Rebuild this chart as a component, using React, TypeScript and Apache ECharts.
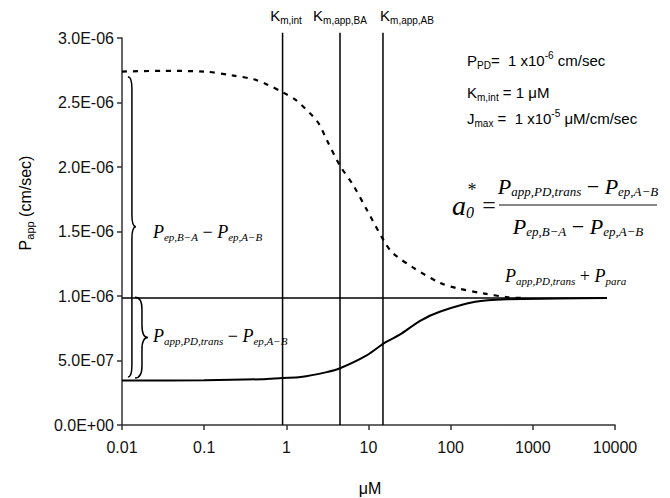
import React, { useEffect, useRef } from 'react';
import * as echarts from 'echarts';

const xTickLabels = ['0.01', '0.1', '1', '10', '100', '1000', '10000'];
const yTickLabels = ['0.0E+00', '5.0E-07', '1.0E-06', '1.5E-06', '2.0E-06', '2.5E-06', '3.0E-06'];

// P_ep,B-A (dotted)
const epX = [0.01, 0.03, 0.1, 0.22, 0.4, 0.58, 0.9, 1.3, 2.4, 3.1, 4.5, 6.5, 9.5, 16, 20, 35, 75, 120, 250, 500, 800];
const epY = [2.74e-6, 2.745e-6, 2.74e-6, 2.71e-6, 2.68e-6, 2.64e-6, 2.58e-6, 2.52e-6, 2.35e-6, 2.21e-6, 2.01e-6, 1.86e-6, 1.67e-6, 1.41e-6, 1.33e-6, 1.22e-6, 1.10e-6, 1.06e-6, 1.02e-6, 0.99e-6, 0.985e-6];

// P_app,PD,trans (solid)
const pdX = [0.01, 0.1, 0.5, 0.9, 1.5, 3.1, 4.5, 9.5, 16, 24, 43, 75, 200, 500, 2000, 8000];
const pdY = [0.345e-6, 0.347e-6, 0.355e-6, 0.365e-6, 0.372e-6, 0.41e-6, 0.44e-6, 0.54e-6, 0.64e-6, 0.70e-6, 0.81e-6, 0.88e-6, 0.955e-6, 0.975e-6, 0.98e-6, 0.985e-6];

// P_app,PD,trans + P_para (horizontal)
const paraX = [0.01, 8000];
const paraY = [0.985e-6, 0.985e-6];

// Km markers
const kmNames = ['m,int', 'm,app,BA', 'm,app,AB'];
const kmValues = [0.9, 4.5, 15];
const kmTop = 3.04e-6;

// braces
const braceX = [0.0132, 0.0175];
const braceTop = [2.7e-6, 0.99e-6];
const braceBottom = [0.372e-6, 0.365e-6];

const SANS = 'Liberation Sans, Arial, sans-serif';
const SERIF = 'Liberation Serif, Times New Roman, serif';

const braceEnd = [4, 7];
const braceTip = [4, 6];

export default function App() {
  const ref = useRef<HTMLDivElement>(null);
  useEffect(() => {
    if (!ref.current) return;
    const chart = echarts.init(ref.current, undefined, { renderer: 'svg' });

    const mk = (big: number, small: number, lh: number) => ({
      P: { fontFamily: SERIF, fontStyle: 'italic', fontWeight: 'normal', fontSize: big, lineHeight: lh, verticalAlign: 'middle', color: '#111' },
      s: { fontFamily: SERIF, fontStyle: 'italic', fontWeight: 'normal', fontSize: small, lineHeight: lh, verticalAlign: 'bottom', color: '#111', padding: [0, 0, 2, 0] },
      m: { fontFamily: SERIF, fontWeight: 'normal', fontSize: big, lineHeight: lh, verticalAlign: 'middle', color: '#111' },
    });
    const serifRich = mk(18, 11, 24);
    const bigRich = mk(22, 13, 28);
    const aRich = mk(28, 16, 34);
    const sansRich = {
      n: { fontFamily: SANS, fontSize: 15, lineHeight: 20, verticalAlign: 'middle', color: '#000' },
      s: { fontFamily: SANS, fontSize: 10, lineHeight: 20, verticalAlign: 'bottom', color: '#000' },
      u: { fontFamily: SANS, fontSize: 10, lineHeight: 20, verticalAlign: 'top', color: '#000' },
    };

    const kmLabelX = [286, 340, 407];

    const graphic: any[] = [
      ...kmNames.map((n, i) => ({
        type: 'text', x: kmLabelX[i], y: 15,
        style: { text: `{n|K}{s|${n}}`, rich: sansRich, align: 'center', verticalAlign: 'middle' },
      })),
      { type: 'text', x: 467, y: 60, style: { text: '{n|P}{s|PD}{n|=  1 x10}{u|-6}{n| cm/sec}', rich: sansRich, align: 'left', verticalAlign: 'middle' } },
      { type: 'text', x: 467, y: 92, style: { text: '{n|K}{s|m,int}{n| = 1 μM}', rich: sansRich, align: 'left', verticalAlign: 'middle' } },
      { type: 'text', x: 467, y: 118, style: { text: '{n|J}{s|max}{n| =  1 x10}{u|-5}{n| μM/cm/sec}', rich: sansRich, align: 'left', verticalAlign: 'middle' } },
      // y axis name
      { type: 'text', x: 25, y: 203, rotation: Math.PI / 2, style: { text: '{n|P}{s|app}{n| (cm/sec)}', rich: { ...sansRich, n: { ...sansRich.n, fontSize: 16 }, s: { ...sansRich.s, fontSize: 11 } }, align: 'center', verticalAlign: 'middle' } },
      { type: 'text', x: 370, y: 488, style: { text: 'μM', font: `16px ${SANS}`, fill: '#000', align: 'center', verticalAlign: 'middle' } },
      // brace labels
      { type: 'text', x: 153, y: 232, style: { text: '{P|P}{s|ep,B−A}{m| − }{P|P}{s|ep,A−B}', rich: serifRich, align: 'left', verticalAlign: 'middle' } },
      { type: 'text', x: 153, y: 336, style: { text: '{P|P}{s|app,PD,trans}{m| − }{P|P}{s|ep,A−B}', rich: serifRich, align: 'left', verticalAlign: 'middle' } },
      { type: 'text', x: 505, y: 276, style: { text: '{P|P}{s|app,PD,trans}{m| + }{P|P}{s|para}', rich: serifRich, align: 'left', verticalAlign: 'middle' } },
      // formula
      { type: 'text', x: 452, y: 205, style: { text: '{P|a}{s|0}', rich: aRich, align: 'left', verticalAlign: 'middle' } },
      { type: 'text', x: 472, y: 190, style: { text: '*', font: `18px ${SERIF}`, fill: '#111', align: 'center', verticalAlign: 'middle' } },
      { type: 'text', x: 489, y: 205, style: { text: '=', font: `24px ${SERIF}`, fill: '#111', align: 'center', verticalAlign: 'middle' } },
      { type: 'text', x: 578, y: 186, style: { text: '{P|P}{s|app,PD,trans}{m| − }{P|P}{s|ep,A−B}', rich: bigRich, align: 'center', verticalAlign: 'middle' } },
      { type: 'line', shape: { x1: 499, y1: 205, x2: 657, y2: 205 }, style: { stroke: '#111', lineWidth: 1.2 } },
      { type: 'text', x: 578, y: 226, style: { text: '{P|P}{s|ep,B−A}{m| − }{P|P}{s|ep,A−B}', rich: bigRich, align: 'center', verticalAlign: 'middle' } },
    ];

    const vertSeries = kmValues.map((v) => ({
      type: 'line', data: [[v, 0], [v, kmTop]], showSymbol: false, clip: false, silent: true,
      lineStyle: { color: '#000', width: 1.5 },
    }));

    chart.setOption({
      animation: false,
      backgroundColor: '#fff',
      grid: { left: 122, right: 55, top: 38, bottom: 73 },
      xAxis: {
        type: 'log', logBase: 10, min: 0.01, max: 10000,
        axisLine: { lineStyle: { color: '#333', width: 1.5 } },
        axisTick: { show: true, length: 5, lineStyle: { color: '#333', width: 1.5 } },
        minorTick: { show: false },
        splitLine: { show: false },
        axisLabel: {
          color: '#111', fontSize: 16, fontFamily: SANS, margin: 14,
          formatter: (v: number) => xTickLabels[Math.round(Math.log10(v)) + 2] ?? '',
        },
      },
      yAxis: {
        type: 'value', min: 0, max: 3e-6, interval: 5e-7,
        axisLine: { show: true, lineStyle: { color: '#333', width: 1.5 } },
        axisTick: { show: true, length: 5, lineStyle: { color: '#333', width: 1.5 } },
        splitLine: { show: false },
        axisLabel: {
          color: '#111', fontSize: 16, fontFamily: SANS, margin: 8,
          formatter: (_v: number, i: number) => yTickLabels[i] ?? '',
        },
      },
      graphic,
      series: [
        {
          type: 'line', data: epX.map((x, i) => [x, epY[i]]), smooth: 0.3, showSymbol: false,
          lineStyle: { color: '#000', width: 2.2, type: [5, 6] },
        },
        {
          type: 'line', data: pdX.map((x, i) => [x, pdY[i]]), smooth: 0.3, showSymbol: false,
          lineStyle: { color: '#000', width: 2 },
        },
        {
          type: 'line', data: paraX.map((x, i) => [x, paraY[i]]), showSymbol: false,
          lineStyle: { color: '#000', width: 1.5 },
        },
        ...vertSeries,
        {
          type: 'custom', clip: false, silent: true,
          data: braceX.map((x, i) => [x, braceTop[i], braceBottom[i], i]),
          renderItem: (_p: any, api: any) => {
            const i = api.value(3);
            const top = api.coord([api.value(0), api.value(1)]);
            const bot = api.coord([api.value(0), api.value(2)]);
            const c = top[0];
            const yt = top[1];
            const yb = bot[1];
            const ym = (yt + yb) / 2;
            const e = braceEnd[i];
            const t = braceTip[i];
            const r = 12;
            const d = `M${c - e},${yt} Q${c},${yt} ${c},${yt + r} L${c},${ym - r} Q${c},${ym} ${c + t},${ym} Q${c},${ym} ${c},${ym + r} L${c},${yb - r} Q${c},${yb} ${c - e},${yb}`;
            return { type: 'path', shape: { pathData: d }, style: { stroke: '#000', fill: 'none', lineWidth: 1.5 } };
          },
        },
      ],
    });
    return () => chart.dispose();
  }, []);
  return <div ref={ref} style={{ position: 'fixed', left: 0, top: 0, width: 670, height: 498, background: '#fff' }} />;
}
